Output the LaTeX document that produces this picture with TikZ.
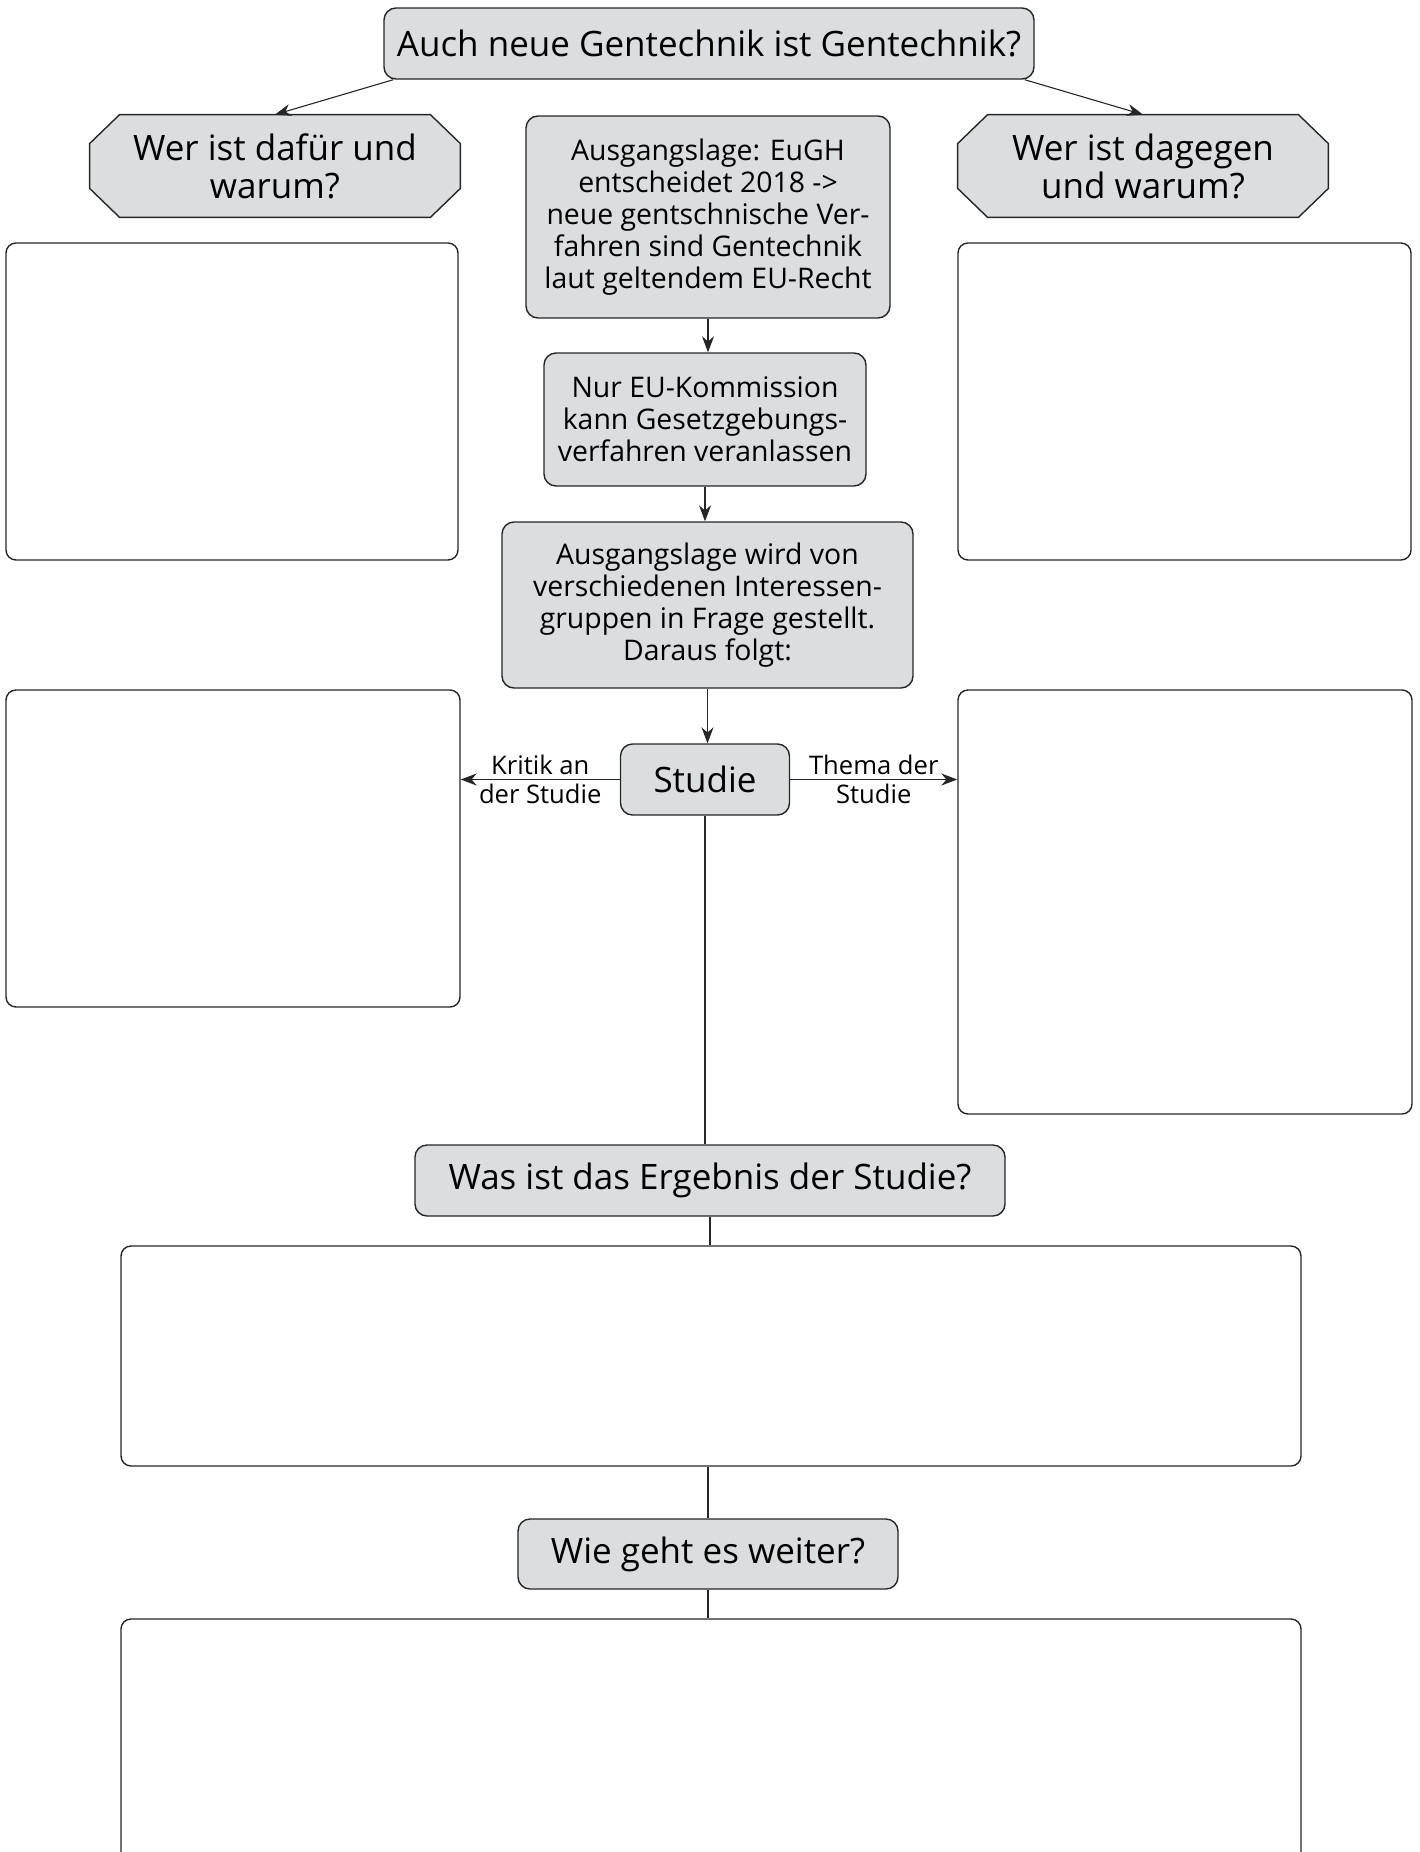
\documentclass[tikz,border=0pt]{standalone}
\usepackage{fontspec}
\setmainfont{Open Sans}
\usetikzlibrary{arrows.meta, positioning, backgrounds}
\definecolor{BoxGray}{HTML}{DCDDDF}
\definecolor{LineGray}{HTML}{262626}

\begin{document}
\begin{tikzpicture}[x=0.5pt, y=-0.5pt, >={Stealth[length=8pt, width=6pt]},
    topic/.style={draw=LineGray, line width=0.7pt, rounded corners=6pt,
                  fill=BoxGray, inner sep=0pt, align=center,
                  font=\fontsize{17.5}{19}\selectfont},
    info/.style={topic, font=\fontsize{14.2}{16}\selectfont},
    question/.style={inner sep=0pt, align=center,
                  minimum width=185pt, minimum height=51pt,
                  font=\fontsize{17.5}{19}\selectfont},
    octagon/.style={draw=LineGray, line width=0.7pt, fill=BoxGray},
    answer/.style={draw=LineGray, line width=0.7pt, rounded corners=5pt,
                  inner sep=0pt},
    link/.style={draw=LineGray, line width=0.55pt},
    linklabel/.style={align=center, font=\fontsize{12.8}{14.5}\selectfont}]
  \useasboundingbox (0,0) rectangle (1419,1852);

  % Main question
  \node[topic, minimum width=325pt, minimum height=35.5pt] (top) at (709,43.5)
    {Auch neue Gentechnik ist Gentechnik?};

  % Pro and contra
  \node[question] (proq) at (275,166) {Wer ist dafür und\\warum?};
  \node[question] (contraq) at (1143,166) {Wer ist dagegen\\und warum?};
  \begin{scope}[on background layer]
    \foreach \q in {proq, contraq}
      \draw[octagon] ([xshift=15pt]\q.north west) -- ([xshift=-15pt]\q.north east)
        -- ([yshift=-14.5pt]\q.north east) -- ([yshift=14.5pt]\q.south east)
        -- ([xshift=-15pt]\q.south east) -- ([xshift=15pt]\q.south west)
        -- ([yshift=14.5pt]\q.south west) -- ([yshift=-14.5pt]\q.north west) -- cycle;
  \end{scope}
  \node[answer, minimum width=226pt, minimum height=158.5pt] (pro) at (232,401.5) {};
  \node[answer, minimum width=226.5pt, minimum height=158.5pt] (contra) at (1184.5,401.5) {};

  \draw[link, ->] ([xshift=5pt]top.south west) -- (proq.north);
  \draw[link, ->] ([xshift=-5pt]top.south east) -- (contraq.north);

  % Starting point
  \node[info, minimum width=182pt, minimum height=101pt] (ausg) at (708,217)
    {Ausgangslage: EuGH\\entscheidet 2018 ->\\neue gentschnische Ver-\\fahren sind Gentechnik\\laut geltendem EU-Recht};
  \node[info, minimum width=161pt, minimum height=66.5pt] (kommission) at (705,419.5)
    {Nur EU-Kommission\\kann Gesetzgebungs-\\verfahren veranlassen};
  \node[info, minimum width=205.5pt, minimum height=83pt] (frage) at (707.5,605)
    {Ausgangslage wird von\\verschiedenen Interessen-\\gruppen in Frage gestellt.\\Daraus folgt:};

  \draw[link, ->] (ausg.south) -- (ausg.south |- kommission.north);
  \draw[link, ->] (kommission.south) -- (kommission.south |- frage.north);

  % Study
  \node[topic, minimum width=84.5pt, minimum height=35.5pt] (studie) at (705,779.5) {Studie};
  \node[answer, minimum width=227pt, minimum height=158.5pt] (kritik) at (233,848.5) {};
  \node[answer, minimum width=227pt, minimum height=212pt] (thema) at (1185,902) {};

  \draw[link, ->] (frage.south) -- (frage.south |- studie.north);
  \draw[link, ->] (studie.west) -- (studie.west -| kritik.east)
    node[midway, linklabel] {Kritik an\\der Studie};
  \draw[link, ->] (studie.east) -- (studie.east -| thema.west)
    node[midway, linklabel] {Thema der\\Studie};

  % Result and outlook
  \node[topic, minimum width=295pt, minimum height=35.5pt] (ergebnis) at (710,1180.5)
    {Was ist das Ergebnis der Studie?};
  \node[answer, minimum width=590pt, minimum height=110pt] (ergebnisbox) at (711,1356) {};
  \node[topic, minimum width=190pt, minimum height=35pt] (weiter) at (708,1554)
    {Wie geht es weiter?};
  \node[answer, minimum width=590pt, minimum height=125pt] (weiterbox) at (711,1744) {};

  \draw[link] (studie.south) -- (studie.south |- ergebnis.north);
  \draw[link] (ergebnis.south) -- (ergebnis.south |- ergebnisbox.north);
  \draw[link] (ergebnisbox.south -| weiter.north) -- (weiter.north);
  \draw[link] (weiter.south) -- (weiter.south |- weiterbox.north);
\end{tikzpicture}
\end{document}
